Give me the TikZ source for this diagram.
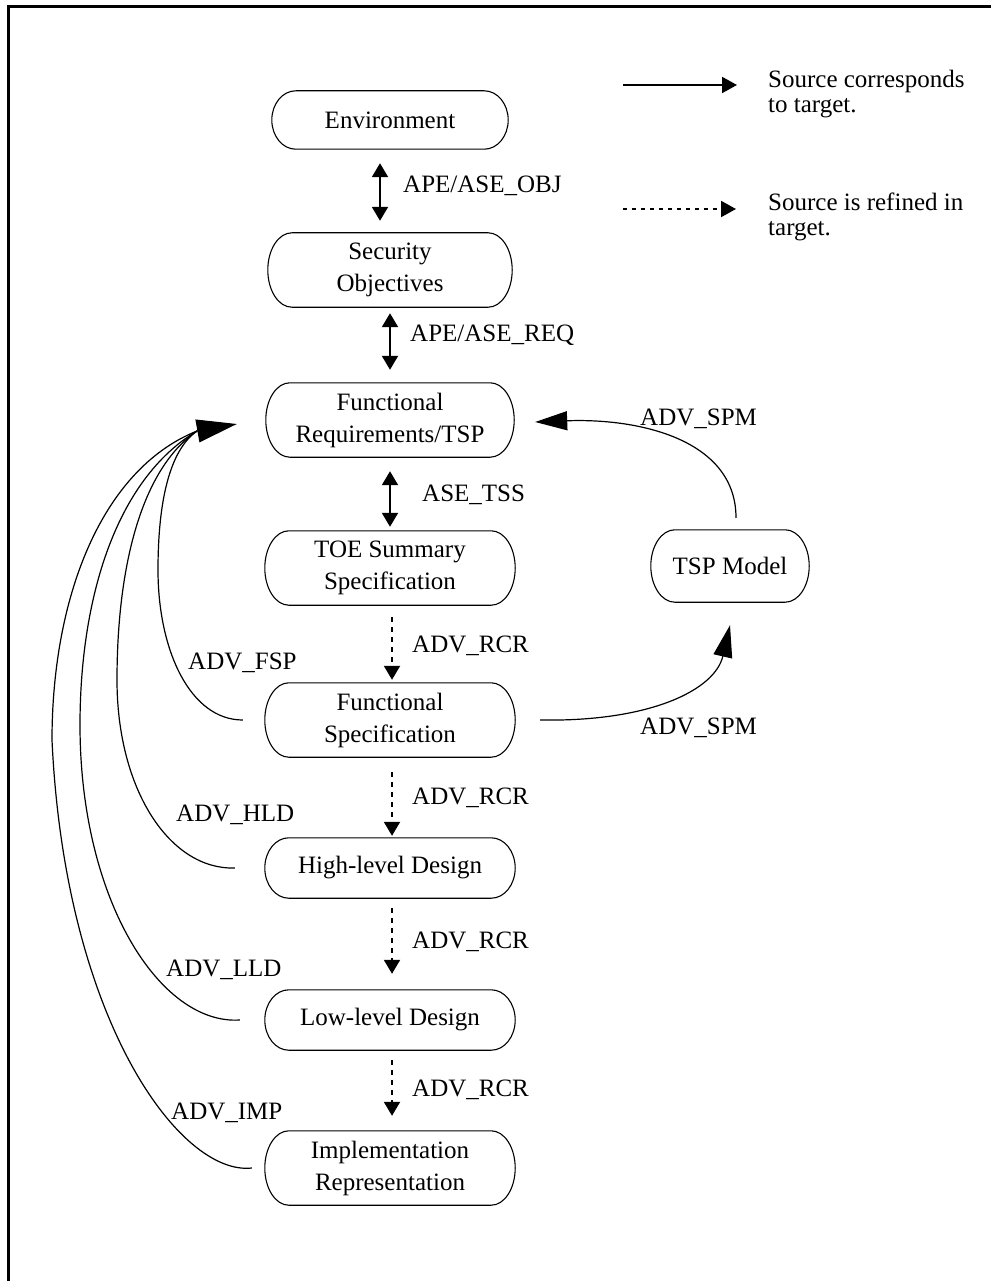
\documentclass[tikz,border=0pt]{standalone}
\usepackage{fontspec}
\setmainfont{Liberation Serif}
\usetikzlibrary{arrows.meta,calc}

\begin{document}
\begin{tikzpicture}[x=1pt,y=-1pt,
  stage/.style={inner sep=0pt,align=center,font=\fontsize{25}{32}\selectfont},
  outline/.style={line width=1.1pt},
  lbl/.style={anchor=west,inner sep=0pt,align=left,font=\fontsize{25}{25}\selectfont},
  corr/.style={line width=2pt,{Triangle[length=14pt,width=16pt]}-{Triangle[length=14pt,width=16pt]}},
  refine/.style={line width=2pt,dash pattern=on 5pt off 5pt,-{Triangle[length=14pt,width=16pt]}},
  legsolid/.style={line width=2pt,-{Triangle[length=15pt,width=16pt]}},
  legdash/.style={line width=2pt,dash pattern=on 4pt off 5pt,-{Triangle[length=15pt,width=16pt]}},
  link/.style={line width=1.2pt},
  bigtip/.style={line width=1.2pt,-{Triangle[length=40pt,width=23pt]}},
  midtip/.style={line width=1.2pt,-{Triangle[length=32pt,width=19pt]}}]

\useasboundingbox (0,0) rectangle (991,1281);

% page frame (top and left edges)
\draw[line width=3pt] (8,1281) -- (8,7) -- (991,7);

% stages of the development chain
\node[stage,minimum width=236pt,minimum height=58pt] (env) at (390,120) {Environment};
\node[stage,minimum width=244pt,minimum height=74pt] (sec) at (390,270) {Security\\Objectives};
\node[stage,minimum width=248pt,minimum height=74pt] (fr)  at (390,420) {Functional\\Requirements/TSP};
\node[stage,minimum width=250pt,minimum height=74pt] (toe) at (390,568) {TOE Summary\\Specification};
\node[stage,minimum width=250pt,minimum height=74pt] (fs)  at (390,720) {Functional\\Specification};
\node[stage,minimum width=250pt,minimum height=60pt] (hld) at (390,868) {High-level Design};
\node[stage,minimum width=250pt,minimum height=60pt] (lld) at (390,1020) {Low-level Design};
\node[stage,minimum width=250pt,minimum height=74pt] (imp) at (390,1168) {Implementation\\Representation};
\node[stage,minimum width=158pt,minimum height=72pt] (tsp) at (730,566) {TSP Model};

% stadium outlines with elliptic ends
\foreach \s in {env,sec,fr,toe,fs,hld,lld,imp,tsp}
  \draw[outline] let \p1=(\s.north), \p2=(\s.south), \n1={(\y1-\y2)/2} in
    ([xshift=24pt]\s.north west) -- ([xshift=-24pt]\s.north east)
    arc[start angle=90,end angle=-90,x radius=24pt,y radius=\n1]
    -- ([xshift=24pt]\s.south west)
    arc[start angle=270,end angle=90,x radius=24pt,y radius=\n1] -- cycle;

% correspondence arrows between consecutive stages
\draw[corr] ([xshift=-10pt,yshift=-14pt]env.south) -- ([xshift=-10pt,yshift=12pt]sec.north);
\node[lbl] (lobj) at (403,186) {APE/ASE\_OBJ};
\draw[corr] ([yshift=-6pt]sec.south) -- ([yshift=13pt]fr.north);
\node[lbl] (lreq) at (410,335) {APE/ASE\_REQ};
\draw[corr] ([yshift=-14pt]fr.south) -- ([yshift=4pt]toe.north);
\node[lbl] (ltss) at (422,495) {ASE\_TSS};

% refinement arrows
\draw[refine] ([xshift=2pt,yshift=-12pt]toe.south) -- ([xshift=2pt,yshift=3pt]fs.north);
\node[lbl] (lr1) at (412,646) {ADV\_RCR};
\draw[refine] ([xshift=2pt,yshift=-15pt]fs.south) -- ([xshift=2pt,yshift=2pt]hld.north);
\node[lbl] (lr2) at (412,798) {ADV\_RCR};
\draw[refine] ([xshift=2pt,yshift=-10pt]hld.south) -- ([xshift=2pt,yshift=16pt]lld.north);
\node[lbl] (lr3) at (412,942) {ADV\_RCR};
\draw[refine] ([xshift=2pt,yshift=-10pt]lld.south) -- ([xshift=2pt,yshift=15pt]imp.north);
\node[lbl] (lr4) at (412,1090) {ADV\_RCR};

% representations traced back to the functional requirements
\coordinate (hub) at (197,431);
\draw[link] ([xshift=-22pt]fs.west)
  .. controls (190,720) and (158,650) .. (158,570)
  .. controls (158,500) and (170,450) .. (hub);
\draw[link] ([xshift=-30pt]hld.west)
  .. controls (170,870) and (117,790) .. (117,680)
  .. controls (117,570) and (140,470) .. (hub);
\draw[link] ([xshift=-25pt]lld.west)
  .. controls (160,1025) and (80,900) .. (80,725)
  .. controls (80,600) and (115,480) .. (hub);
\draw[link] ([xshift=-13pt]imp.west)
  .. controls (180,1176) and (65,1020) .. (52,740)
  .. controls (52,600) and (100,470) .. (hub);
\draw[bigtip] (hub) -- ([xshift=-29pt,yshift=-4pt]fr.west);
\node[lbl] (lfsp) at (188,663) {ADV\_FSP};
\node[lbl] (lhld) at (176,815) {ADV\_HLD};
\node[lbl] (llld) at (166,970) {ADV\_LLD};
\node[lbl] (limp) at (171,1113) {ADV\_IMP};

% security policy model
\draw[midtip] ([xshift=6pt,yshift=12pt]tsp.north) .. controls (736,440) and (640,418) .. ([xshift=21pt,yshift=-2pt]fr.east);
\node[lbl] (lspm1) at (640,419) {ADV\_SPM};
\draw[midtip] ([xshift=25pt]fs.east) .. controls (650,722) and (715,690) .. ([yshift=-23pt]tsp.south);
\node[lbl] (lspm2) at (640,728) {ADV\_SPM};

% legend
\coordinate (ka) at (623,85);
\coordinate (kb) at (737,85);
\draw[legsolid] (ka) -- (kb);
\node[lbl] (kt1) at (768,94) {Source corresponds\\to target.};
\coordinate (kc) at (623,209);
\coordinate (kd) at (736,209);
\draw[legdash] (kc) -- (kd);
\node[lbl] (kt2) at (768,217) {Source is refined in\\target.};
\end{tikzpicture}
\end{document}
